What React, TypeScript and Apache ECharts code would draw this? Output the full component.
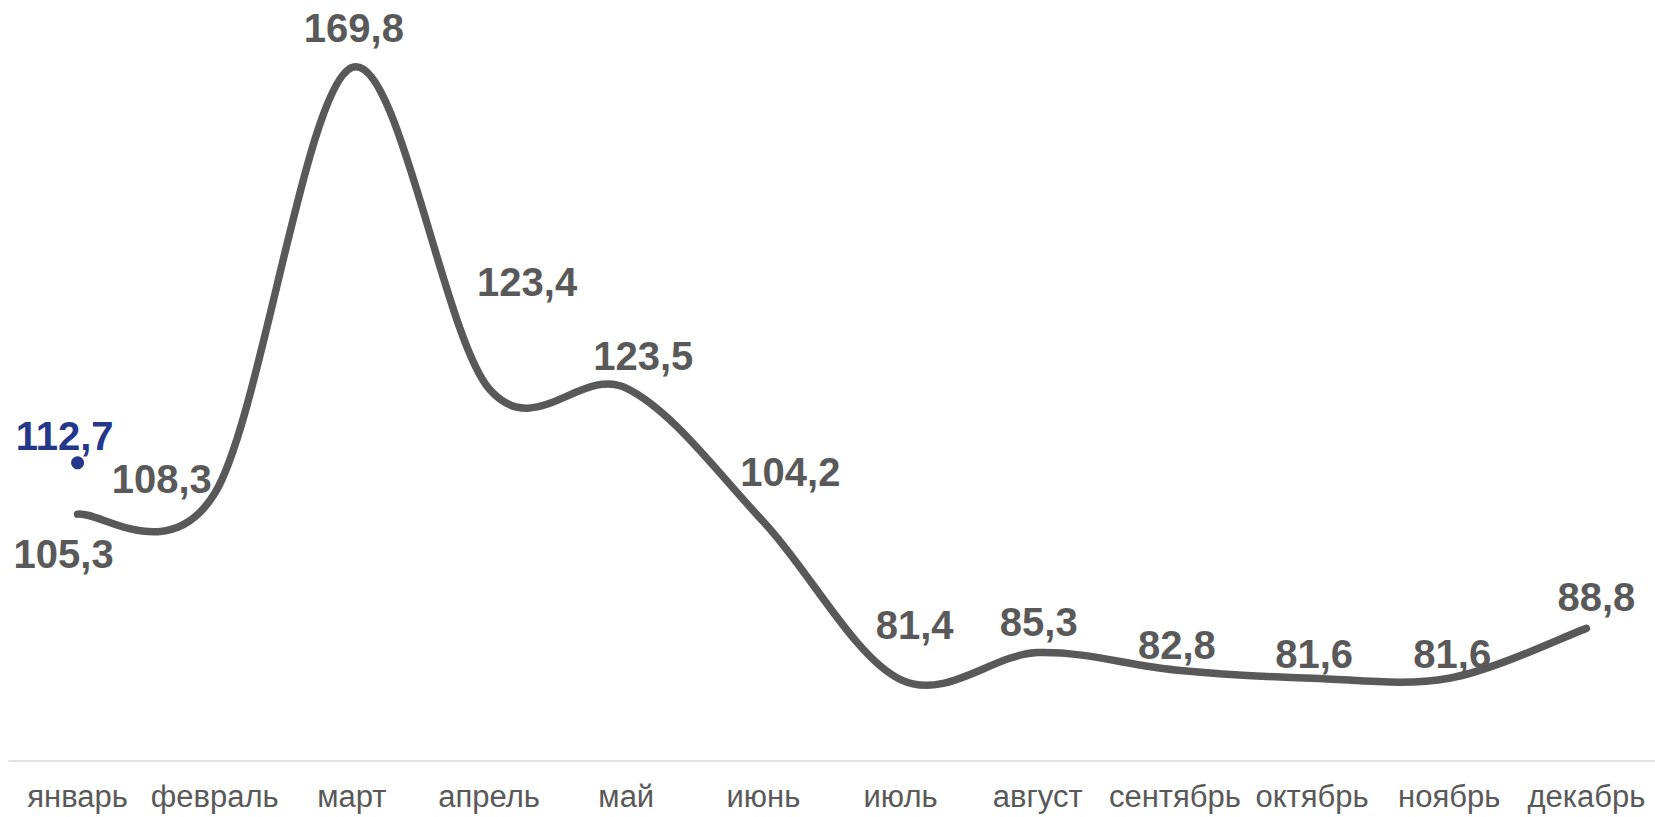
import React, { useEffect, useRef } from "react";
import * as echarts from "echarts";

const months = ["январь", "февраль", "март", "апрель", "май", "июнь", "июль", "август", "сентябрь", "октябрь", "ноябрь", "декабрь"];
const values = [105.3, 108.3, 169.8, 123.4, 123.5, 104.2, 81.4, 85.3, 82.8, 81.6, 81.6, 88.8];
const labelOffsets: [number, number][] = [
  [-14, 40], [-53, -14], [2, -40], [38, -107], [17, -32], [27, -50],
  [14, -55], [1, -31], [2, -25], [2, -24], [3, -24], [10, -31],
];
const extraPoint = { month: "январь", value: 112.7 };

const GRAY = "#595959";
const BLUE = "#25378A";
const FONT = "'Liberation Sans', Arial, sans-serif";

const fmt = (v: number) => String(v).replace(".", ",");

export default function App() {
  const ref = useRef<HTMLDivElement>(null);
  useEffect(() => {
    document.body.style.margin = "0";
    if (!ref.current) return;
    const chart = echarts.init(ref.current, null, { renderer: "svg" });
    chart.setOption({
      animation: false,
      backgroundColor: "#ffffff",
      grid: { left: 9, width: 1656, top: 31.5, bottom: 56.4, containLabel: false },
      xAxis: {
        type: "category",
        data: months,
        boundaryGap: true,
        axisLine: { show: true, lineStyle: { color: "#D9D9D9", width: 1.5 } },
        axisTick: { show: false },
        axisLabel: { interval: 0, color: GRAY, fontSize: 31, fontFamily: FONT, margin: 20 },
        splitLine: { show: false },
      },
      yAxis: {
        type: "value",
        min: 69.7,
        max: 175,
        show: false,
        splitLine: { show: false },
      },
      series: [
        {
          type: "custom",
          data: values,
          clip: false,
          silent: true,
          renderItem: (params: any, api: any) => {
            if (params.dataIndex !== 0) return null;
            const pts = values.map((v, i) => api.coord([i, v]));
            let d = `M${pts[0][0]},${pts[0][1]}`;
            for (let i = 0; i < pts.length - 1; i++) {
              const p0 = pts[i - 1] || pts[i];
              const p1 = pts[i];
              const p2 = pts[i + 1];
              const p3 = pts[i + 2] || pts[i + 1];
              const c1x = p1[0] + (p2[0] - p0[0]) / 6;
              const c1y = p1[1] + (p2[1] - p0[1]) / 6;
              const c2x = p2[0] - (p3[0] - p1[0]) / 6;
              const c2y = p2[1] - (p3[1] - p1[1]) / 6;
              d += ` C${c1x},${c1y} ${c2x},${c2y} ${p2[0]},${p2[1]}`;
            }
            return {
              type: "path",
              shape: { pathData: d },
              style: { fill: "none", stroke: GRAY, lineWidth: 7.5, lineCap: "round", lineJoin: "round" },
            };
          },
          z: 2,
        },
        {
          type: "scatter",
          data: values.map((v, i) => ({
            value: [i, v],
            label: { offset: labelOffsets[i] },
          })),
          symbol: "circle",
          symbolSize: 0.1,
          itemStyle: { color: GRAY, opacity: 1 },
          label: {
            show: true,
            position: "inside",
            color: GRAY,
            fontSize: 40,
            fontWeight: "bold",
            fontFamily: FONT,
            formatter: (p: any) => fmt(p.value[1]),
          },
          z: 3,
        },
        {
          type: "scatter",
          data: [[extraPoint.month, extraPoint.value]],
          symbol: "circle",
          symbolSize: 13,
          itemStyle: { color: BLUE, opacity: 1 },
          label: {
            show: true,
            position: "inside",
            offset: [-13, -27],
            color: BLUE,
            fontSize: 40,
            fontWeight: "bold",
            fontFamily: FONT,
            formatter: (p: any) => fmt(p.value[1]),
          },
          z: 4,
        },
      ],
    });
    return () => chart.dispose();
  }, []);
  return <div ref={ref} style={{ width: 1655, height: 817 }} />;
}
